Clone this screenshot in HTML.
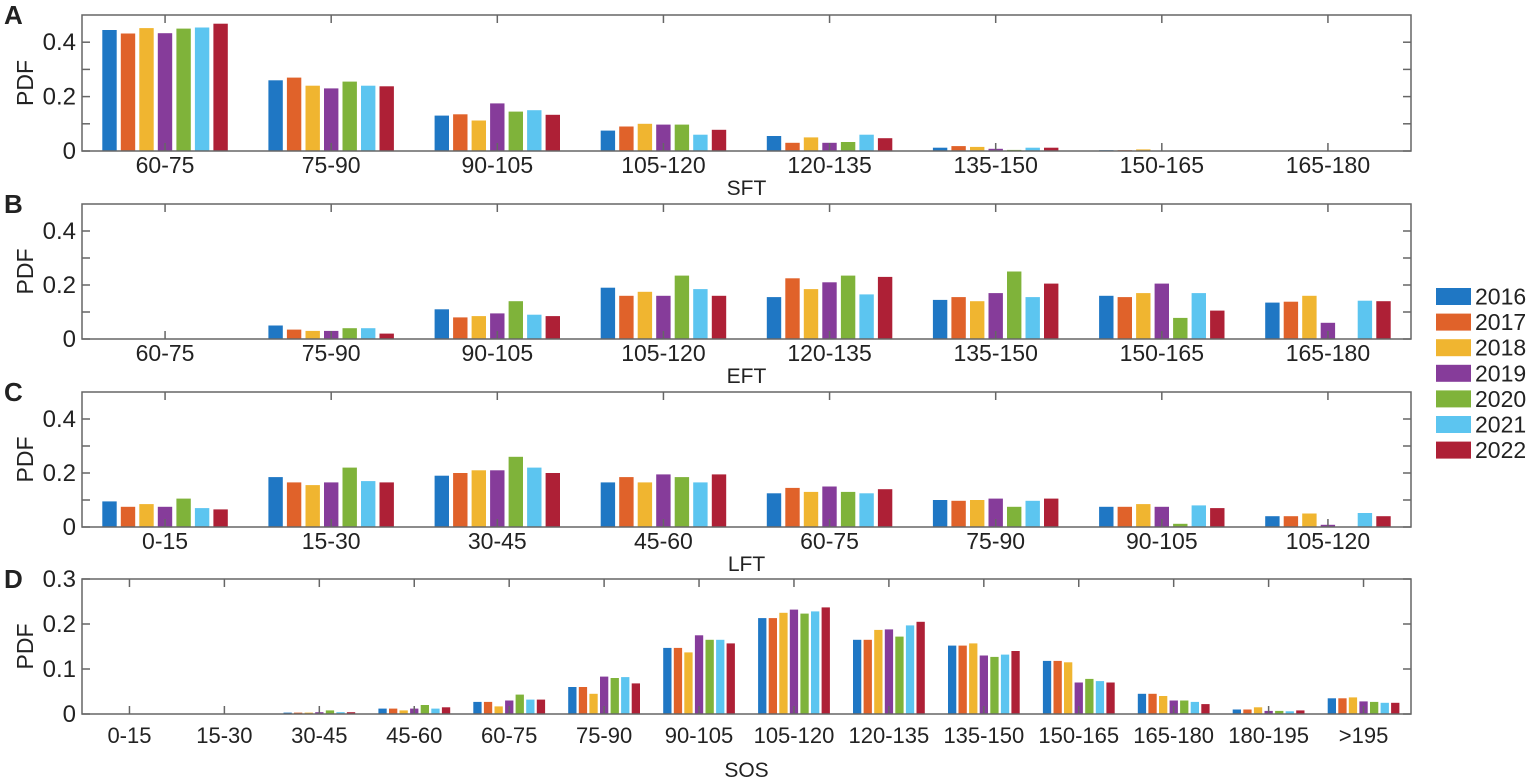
<!DOCTYPE html><html><head><meta charset="utf-8"><style>body{margin:0;background:#fff}svg{display:block}text{font-family:"Liberation Sans",Arial,sans-serif;fill:#222}</style></head><body>
<svg id="s" width="1535" height="780" xmlns="http://www.w3.org/2000/svg"></svg>
<script>
const C=["#1f77c4","#e0622a","#f0b530","#863c9a","#7fb33a","#5cc5f0","#ae2036"];
const P=[
{L:"A",t:15,b:151,ym:0.5,tk:[0,.1,.2,.3,.4],lab:[0,.2,.4],x:"SFT",cats:["60-75","75-90","90-105","105-120","120-135","135-150","150-165","165-180"],
d:[[.445,.432,.452,.433,.450,.454,.468],[.26,.27,.24,.23,.255,.24,.238],[.13,.135,.112,.175,.145,.15,.133],[.075,.09,.1,.097,.097,.06,.078],[.055,.03,.05,.03,.033,.06,.047],[.012,.018,.015,.008,.004,.012,.012],[.003,.003,.006,.002,.001,.001,.001],[0,0,0,0,0,0,0]]},
{L:"B",t:204,b:339,ym:0.5,tk:[0,.1,.2,.3,.4],lab:[0,.2,.4],x:"EFT",cats:["60-75","75-90","90-105","105-120","120-135","135-150","150-165","165-180"],
d:[[.002,.002,.002,.002,.002,.002,.002],[.05,.035,.03,.03,.04,.04,.02],[.11,.08,.085,.095,.14,.09,.085],[.19,.16,.175,.16,.235,.185,.16],[.155,.225,.185,.21,.235,.165,.23],[.145,.155,.14,.17,.25,.155,.205],[.16,.155,.17,.205,.078,.17,.105],[.135,.138,.16,.06,0,.142,.14]]},
{L:"C",t:392,b:527,ym:0.5,tk:[0,.1,.2,.3,.4],lab:[0,.2,.4],x:"LFT",cats:["0-15","15-30","30-45","45-60","60-75","75-90","90-105","105-120"],
d:[[.095,.075,.085,.075,.105,.07,.065],[.185,.165,.155,.165,.22,.17,.165],[.19,.2,.21,.21,.26,.22,.2],[.165,.185,.165,.195,.185,.165,.195],[.125,.145,.13,.15,.13,.125,.14],[.1,.097,.1,.105,.075,.097,.105],[.075,.075,.085,.075,.012,.08,.07],[.04,.04,.05,.008,0,.052,.04]]},
{L:"D",t:579,b:714,ym:0.3,tk:[0,.1,.2,.3],lab:[0,.1,.2,.3],x:"SOS",cats:["0-15","15-30","30-45","45-60","60-75","75-90","90-105","105-120","120-135","135-150","150-165","165-180","180-195",">195"],
d:[[0,0,0,0,0,0,0],[.001,.001,.001,.001,.001,.001,.001],[.003,.003,.003,.004,.008,.004,.004],[.012,.012,.008,.012,.02,.012,.015],[.027,.027,.017,.03,.043,.032,.032],[.06,.06,.045,.083,.08,.082,.068],[.147,.147,.137,.175,.165,.165,.157],[.213,.213,.225,.232,.223,.228,.237],[.165,.165,.187,.188,.172,.197,.205],[.152,.152,.157,.13,.127,.132,.14],[.118,.118,.115,.07,.078,.073,.07],[.045,.045,.04,.03,.03,.027,.022],[.01,.01,.015,.007,.007,.006,.008],[.035,.035,.037,.028,.027,.025,.025]]}];
const X0=82,X1=1411;let h="";
for(const p of P){const D=p.L=="D";const n=p.cats.length,gw=(X1-X0)/n,H=p.b-p.t,pitch=gw*0.78/7,bw=pitch*0.78;
 const y=v=>p.b-v/p.ym*H;
 p.d.forEach((g,i)=>{const cx=X0+gw*(i+.5);g.forEach((v,j)=>{const bx=cx-gw*0.39+pitch*j+(pitch-bw)/2;const hh=Math.max(v/p.ym*H,0);if(hh>0.2)h+=`<rect x="${bx.toFixed(1)}" y="${y(v).toFixed(1)}" width="${bw.toFixed(1)}" height="${hh.toFixed(1)}" fill="${C[j]}"/>`;});
 h+=`<line x1="${cx}" x2="${cx}" y1="${p.t}" y2="${p.t+8}" stroke="#666" stroke-width="1.5"/><line x1="${cx}" x2="${cx}" y1="${p.b}" y2="${p.b-8}" stroke="#666" stroke-width="1.5"/>`;
 h+=`<text x="${cx}" y="${p.b+(D?29:22)}" font-size="${D?22:23}" text-anchor="middle">${p.cats[i].replace('>','&gt;')}</text>`;});
 for(const v of p.tk){const yy=y(v);h+=`<line x1="${X0}" x2="${X0+8}" y1="${yy}" y2="${yy}" stroke="#666" stroke-width="1.5"/><line x1="${X1}" x2="${X1-8}" y1="${yy}" y2="${yy}" stroke="#666" stroke-width="1.5"/>`;}
 for(const v of p.lab)h+=`<text x="76" y="${y(v)+8}" font-size="24" text-anchor="end">${v}</text>`;
 h+=`<rect x="${X0}" y="${p.t}" width="${X1-X0}" height="${H}" fill="none" stroke="#666" stroke-width="1.5"/>`;
 h+=`<text transform="translate(33,${(p.t+p.b)/2}) rotate(-90)" font-size="23" text-anchor="middle">PDF</text>`;
 h+=`<text x="4" y="${p.t+9}" font-size="26" font-weight="bold">${p.L}</text>`;
 h+=`<text x="${(X0+X1)/2}" y="${p.b+(D?63:44)}" font-size="21" text-anchor="middle">${p.x}</text>`;}
for(let j=0;j<7;j++){const yy=296.5+25.6*j;h+=`<rect x="1436" y="${yy-8.5}" width="35" height="17" fill="${C[j]}"/><text x="1475" y="${yy+8}" font-size="23">${2016+j}</text>`;}
document.getElementById("s").innerHTML=h;
</script></body></html>
